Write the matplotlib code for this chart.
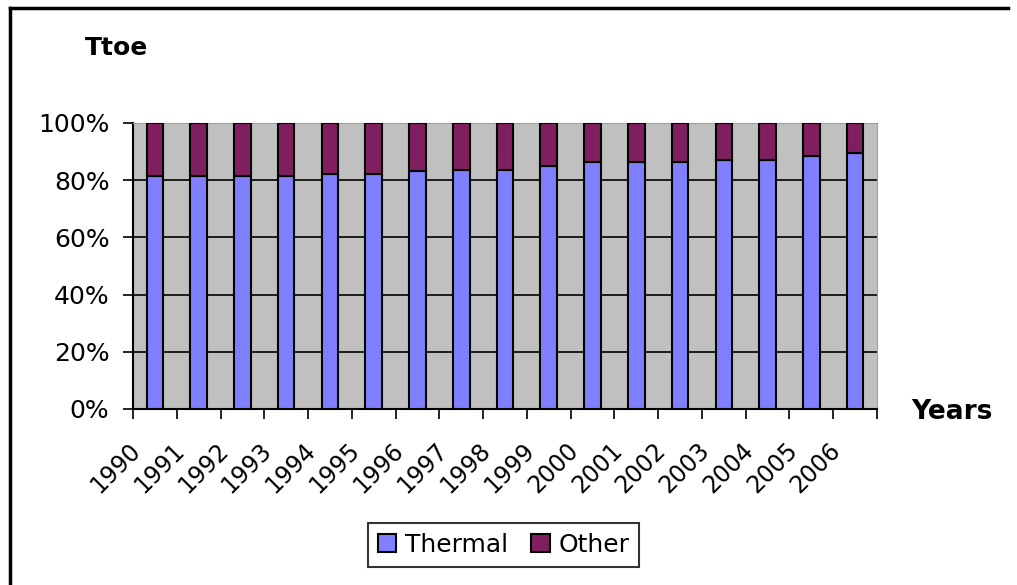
import numpy as np
import matplotlib
matplotlib.use('Agg')
import matplotlib.pyplot as plt
from matplotlib.transforms import offset_copy
from matplotlib.lines import Line2D

# data (share of total, %)
years = ['1990', '1991', '1992', '1993', '1994', '1995', '1996', '1997', '1998',
         '1999', '2000', '2001', '2002', '2003', '2004', '2005', '2006']
thermal = [81.6, 81.6, 81.6, 81.6, 82.3, 82.3, 83.1, 83.7, 83.7,
           85.1, 86.5, 86.5, 86.5, 87.2, 87.2, 88.6, 89.4]
other = [100 - t for t in thermal]

y_ticks = [0, 20, 40, 60, 80, 100]
y_labels = ['0%', '20%', '40%', '60%', '80%', '100%']

plt.rcParams['font.family'] = ['DejaVu Sans']
fs = 18

fig = plt.figure(figsize=(10.17, 5.85), dpi=100)
ax = fig.add_axes([133 / 1017, 1 - 409 / 585, (877 - 133) / 1017, (409 - 123) / 585])
ax.set_facecolor('#C0C0C0')

x = np.arange(len(years))
ax.bar(x, thermal, width=0.38, color='#8080FF', edgecolor='black', linewidth=1.5,
       label='Thermal', zorder=3)
ax.bar(x, other, bottom=thermal, width=0.38, color='#801F5F', edgecolor='black',
       linewidth=1.5, label='Other', zorder=3)

ax.set_xlim(-0.5, len(years) - 0.5)
ax.set_ylim(0, 100)
ax.set_yticks(y_ticks)
ax.set_yticklabels(y_labels, fontsize=fs)
ax.yaxis.grid(True, color='black', linewidth=1.2, zorder=1)
ax.set_axisbelow(True)
ax.tick_params(axis='y', length=7, width=1.2, direction='out', pad=10)

ax.set_xticks(np.arange(-0.5, len(years), 1.0))
ax.set_xticklabels([])
ax.tick_params(axis='x', length=7, width=1.2, direction='out')

ax.spines['left'].set_linewidth(1.5)
ax.spines['bottom'].set_linewidth(1.5)
ax.spines['top'].set_color('#A0A0A0')
ax.spines['right'].set_color('#A0A0A0')

# rotated year labels
trans = offset_copy(ax.get_xaxis_transform(), fig=fig, x=-19, y=-21, units='points')
for i, yr in enumerate(years):
    ax.text(i, 0, yr, transform=trans, rotation=45, rotation_mode='anchor',
            ha='right', va='top', fontsize=fs - 1)

fig.text(85 / 1017, 1 - 48 / 585, 'Ttoe', fontsize=fs, fontweight='bold', va='center')
fig.text(911 / 1017, 1 - 412 / 585, 'Years', fontsize=fs + 1, fontweight='bold', va='center')

leg = fig.legend(loc='center', bbox_to_anchor=(503.5 / 1017, 1 - 544.5 / 585), ncol=2,
                 fontsize=fs, frameon=True, fancybox=False, edgecolor='black',
                 handlelength=0.75, handleheight=0.75, handletextpad=0.35,
                 columnspacing=0.9, borderpad=0.4, borderaxespad=0)
leg.get_frame().set_linewidth(1.5)

# outer chart border (left and top visible)
fig.add_artist(Line2D([10 / 1017, 10 / 1017], [0, 1 - 8 / 585], color='black', linewidth=2.5))
fig.add_artist(Line2D([10 / 1017, 1008 / 1017], [1 - 8 / 585, 1 - 8 / 585], color='black', linewidth=2.5))

fig.savefig('out.png', dpi=100)
